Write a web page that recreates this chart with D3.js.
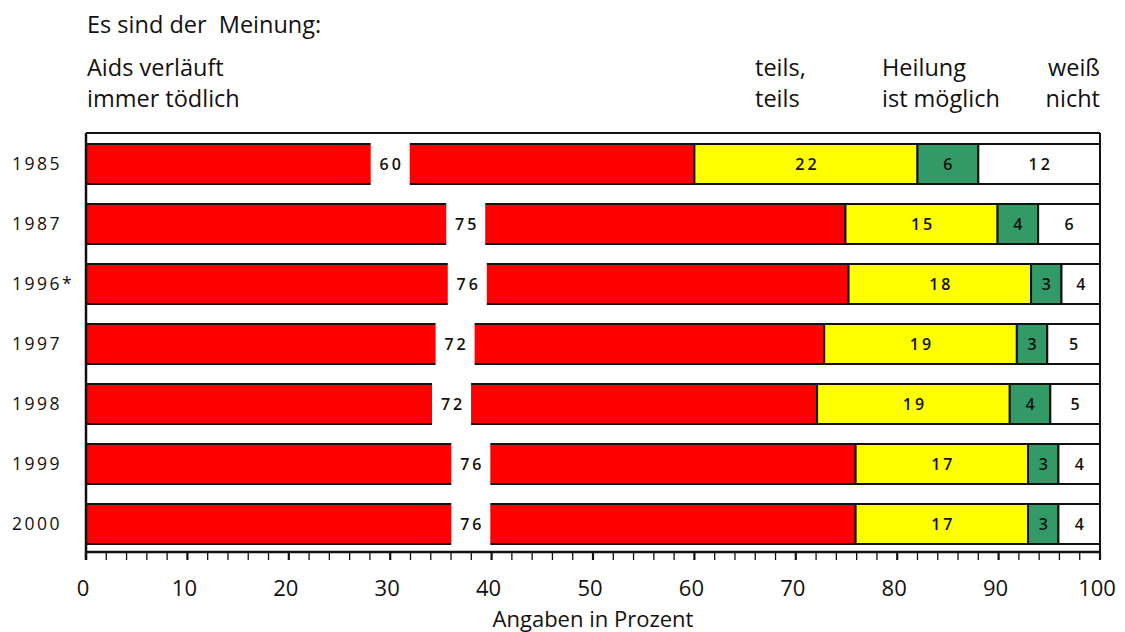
<!DOCTYPE html>
<html><head><meta charset="utf-8">
<script src="https://cdn.jsdelivr.net/npm/d3@7"></script>
<style>
body{margin:0;background:#fff;}
svg{display:block;font-family:"Open Sans",sans-serif;}
</style></head>
<body><svg id="chart" width="1125" height="632"></svg>
<script>
const years = ["1985","1987","1996*","1997","1998","1999","2000"];
const toedlich = [60, 74.9, 75.2, 72.8, 72.1, 75.9, 75.9];
const teils = [22, 15, 18, 19, 19, 17, 17];
const heilung = [6, 4, 3, 3, 4, 3, 3];
const weissNicht = [12, 6, 4, 5, 5, 4, 4];
const toedlichLabels = ["60","75","76","72","72","76","76"];
const teilsLabels = ["22","15","18","19","19","17","17"];
const heilungLabels = ["6","4","3","3","4","3","3"];
const weissLabels = ["12","6","4","5","5","4","4"];
const xTicks = [0,10,20,30,40,50,60,70,80,90,100];
const seriesColors = ["#ff0000","#ffff00","#339966","#ffffff"];

const svg = d3.select("#chart");
const x = d3.scaleLinear().domain([0,100]).range([86,1100]);
const y = d3.scaleBand().domain(years).range([134,554]).paddingInner(1/3).paddingOuter(1/6);
const axisY = 552;

// headers
const hdr = svg.append("g").attr("font-size",23.5).attr("fill","#111");
hdr.append("text").attr("x",87).attr("y",33).attr("xml:space","preserve").text("Es sind der  Meinung:");
hdr.append("text").attr("x",87).attr("y",76).text("Aids verläuft");
hdr.append("text").attr("x",87).attr("y",107).text("immer tödlich");
hdr.append("text").attr("x",755).attr("y",76).text("teils,");
hdr.append("text").attr("x",755).attr("y",107).text("teils");
hdr.append("text").attr("x",882).attr("y",76).text("Heilung");
hdr.append("text").attr("x",882).attr("y",107).text("ist möglich");
hdr.append("text").attr("x",1100).attr("y",76).attr("text-anchor","end").text("weiß");
hdr.append("text").attr("x",1100).attr("y",107).attr("text-anchor","end").text("nicht");

// frame
svg.append("line").attr("x1",x(0)).attr("x2",x(100)).attr("y1",133).attr("y2",133).attr("stroke","#111").attr("stroke-width",2);
svg.append("line").attr("x1",x(100)).attr("x2",x(100)).attr("y1",133).attr("y2",axisY).attr("stroke","#111").attr("stroke-width",2);

// stacked data
const rows = years.map((yr,i)=>{
  const vals=[toedlich[i],teils[i],heilung[i],weissNicht[i]];
  const labs=[toedlichLabels[i],teilsLabels[i],heilungLabels[i],weissLabels[i]];
  let c=0;
  const segs=vals.map((v,k)=>{const s={k,x0:c,x1:k===3?100:c+v,label:labs[k]};c+=v;return s;});
  return {yr,segs};
});

const g = svg.append("g");
rows.forEach(r=>{
  const yy=y(r.yr), h=y.bandwidth();
  g.selectAll(null).data(r.segs).enter().append("rect")
    .attr("x",d=>x(d.x0)).attr("width",d=>x(d.x1)-x(d.x0))
    .attr("y",yy).attr("height",h)
    .attr("fill",d=>seriesColors[d.k]).attr("stroke","#111").attr("stroke-width",2);
  // gap in the red bar
  const red=r.segs[0];
  const mid=(x(red.x0)+x(red.x1))/2;
  g.append("rect").attr("x",mid-19.5).attr("width",39).attr("y",yy-3).attr("height",h+6).attr("fill","#fff");
  // labels
  r.segs.forEach(s=>{
    const cx = s.k===0 ? mid : (x(s.x0)+x(s.x1))/2;
    g.append("text").attr("x",cx+(s.label.length>1?1.5:0)).attr("y",yy+h/2+6)
      .attr("text-anchor","middle").attr("font-size",16).attr("font-weight",600)
      .attr("letter-spacing",s.label.length>1?"3px":"0px").attr("fill","#111").text(s.label);
  });
});

// year labels
svg.append("g").selectAll("text").data(years).enter().append("text")
  .attr("x",12).attr("y",d=>y(d)+y.bandwidth()/2+6)
  .attr("font-size",17.5).attr("letter-spacing","2.5px").attr("fill","#111").text(d=>d);

// x axis
const minor = d3.range(0,101,2);
const ax = svg.append("g");
ax.append("line").attr("x1",x(0)).attr("x2",x(100)).attr("y1",axisY).attr("y2",axisY).attr("stroke","#111").attr("stroke-width",2.5);
ax.append("line").attr("x1",x(0)).attr("x2",x(0)).attr("y1",133).attr("y2",axisY+8).attr("stroke","#111").attr("stroke-width",2.5);
ax.selectAll(".mt").data(minor).enter().append("line")
  .attr("x1",d=>x(d)).attr("x2",d=>x(d)).attr("y1",axisY).attr("y2",axisY+8)
  .attr("stroke","#111").attr("stroke-width",d=>d%10===0?2.2:1.3);
ax.selectAll(".tl").data(xTicks).enter().append("text")
  .attr("x",d=>x(d)-3).attr("y",596).attr("text-anchor","middle")
  .attr("font-size",22).attr("fill","#111").text(d=>d);
svg.append("text").attr("x",593).attr("y",627).attr("text-anchor","middle")
  .attr("font-size",22).attr("fill","#111").text("Angaben in Prozent");
</script></body></html>
